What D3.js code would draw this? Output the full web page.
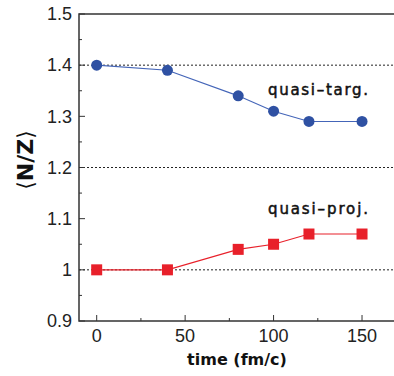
<!DOCTYPE html>
<html>
<head>
<meta charset="utf-8">
<script src="https://cdn.jsdelivr.net/npm/d3@7"></script>
<style>
  body { margin: 0; background: #fff; }
  svg { display: block; }
</style>
</head>
<body>
<div id="chart"></div>
<script>
// data
const times = [0, 40, 80, 100, 120, 150];
const targValues = [1.40, 1.39, 1.34, 1.31, 1.29, 1.29];
const projValues = [1.00, 1.00, 1.04, 1.05, 1.07, 1.07];
const xTicks = [0, 50, 100, 150];
const yTicks = [0.9, 1, 1.1, 1.2, 1.3, 1.4, 1.5];
const yTickLabels = ["0.9", "1", "1.1", "1.2", "1.3", "1.4", "1.5"];
const gridValues = [1.0, 1.2, 1.4];

const width = 394, height = 376;
const blue = "#2f51a3", red = "#e8202a";

const svg = d3.select("#chart").append("svg")
    .attr("width", width)
    .attr("height", height);

const x = d3.scaleLinear().domain([-10, 170]).range([79, 397.4]);
const y = d3.scaleLinear().domain([0.9, 1.5]).range([321, 14]);

// dotted reference lines
svg.selectAll(".grid")
    .data(gridValues)
    .enter().append("line")
    .attr("x1", x(-10)).attr("x2", width)
    .attr("y1", d => y(d)).attr("y2", d => y(d))
    .attr("stroke", "#222")
    .attr("stroke-width", 1)
    .attr("stroke-dasharray", "2,2");

// minor ticks
const yMinor = d3.range(0.95, 1.5, 0.1);
svg.selectAll(".ymin")
    .data(yMinor)
    .enter().append("line")
    .attr("x1", x(-10)).attr("x2", x(-10) + 3)
    .attr("y1", d => y(d)).attr("y2", d => y(d))
    .attr("stroke", "#333");
svg.selectAll(".ymaj")
    .data(yTicks)
    .enter().append("line")
    .attr("x1", x(-10)).attr("x2", x(-10) + 6)
    .attr("y1", d => y(d)).attr("y2", d => y(d))
    .attr("stroke", "#333");
const xMinor = [25, 75, 125];
svg.selectAll(".xmin")
    .data(xMinor)
    .enter().append("line")
    .attr("x1", d => x(d)).attr("x2", d => x(d))
    .attr("y1", y(0.9)).attr("y2", y(0.9) - 3)
    .attr("stroke", "#333");
svg.selectAll(".xmaj")
    .data(xTicks)
    .enter().append("line")
    .attr("x1", d => x(d)).attr("x2", d => x(d))
    .attr("y1", y(0.9)).attr("y2", y(0.9) - 6)
    .attr("stroke", "#333");

// frame: left, bottom, top
svg.append("path")
    .attr("d", `M${width},${y(1.5)}H${x(-10)}V${y(0.9)}H${width}`)
    .attr("fill", "none")
    .attr("stroke", "#333")
    .attr("stroke-width", 1.5);

// tick labels
svg.selectAll(".ylab")
    .data(yTicks)
    .enter().append("text")
    .attr("x", 72)
    .attr("y", d => y(d))
    .attr("dy", "0.35em")
    .attr("text-anchor", "end")
    .style("font-family", "Liberation Sans, Arial, sans-serif")
    .style("font-size", "18px")
    .attr("fill", "#222")
    .text((d, i) => yTickLabels[i]);

svg.selectAll(".xlab")
    .data(xTicks)
    .enter().append("text")
    .attr("x", d => x(d))
    .attr("y", 342)
    .attr("text-anchor", "middle")
    .style("font-family", "Liberation Sans, Arial, sans-serif")
    .style("font-size", "18px")
    .attr("fill", "#222")
    .text(d => d);

// axis titles
svg.append("text")
    .attr("x", 237)
    .attr("y", 365)
    .attr("text-anchor", "middle")
    .style("font-family", "DejaVu Sans, sans-serif")
    .style("font-weight", "bold")
    .style("font-size", "16px")
    .attr("fill", "#111")
    .text("time (fm/c)");

svg.append("text")
    .attr("transform", "translate(33,160) rotate(-90)")
    .attr("text-anchor", "middle")
    .style("font-family", "DejaVu Sans, sans-serif")
    .style("font-size", "22px")
    .attr("fill", "#111")
    .html("⟨<tspan font-weight='bold'>N/Z</tspan>⟩");

// series
const line = d3.line()
    .x(d => x(d[0]))
    .y(d => y(d[1]));

const targ = times.map((t, i) => [t, targValues[i]]);
const proj = times.map((t, i) => [t, projValues[i]]);

svg.append("path")
    .datum(targ)
    .attr("d", line)
    .attr("fill", "none")
    .attr("stroke", "#4465b8")
    .attr("stroke-width", 1.1);

svg.selectAll(".targ")
    .data(targ)
    .enter().append("circle")
    .attr("cx", d => x(d[0]))
    .attr("cy", d => y(d[1]))
    .attr("r", 5.5)
    .attr("fill", blue);

svg.append("path")
    .datum(proj)
    .attr("d", line)
    .attr("fill", "none")
    .attr("stroke", red)
    .attr("stroke-width", 1.1);

svg.selectAll(".proj")
    .data(proj)
    .enter().append("rect")
    .attr("x", d => x(d[0]) - 5.5)
    .attr("y", d => y(d[1]) - 5.5)
    .attr("width", 11)
    .attr("height", 11)
    .attr("fill", red);

// series labels
const labelStyle = sel => sel
    .style("font-family", "DejaVu Sans, sans-serif")
    .style("font-size", "15px")
    .attr("fill", "#111")
    .attr("stroke", "#111")
    .attr("stroke-width", 0.5);

svg.append("text")
    .attr("x", 268).attr("y", 95)
    .attr("textLength", 100)
    .call(labelStyle)
    .text("quasi\u2013targ.");

svg.append("text")
    .attr("x", 268).attr("y", 214)
    .attr("textLength", 100)
    .call(labelStyle)
    .text("quasi\u2013proj.");
</script>
</body>
</html>
